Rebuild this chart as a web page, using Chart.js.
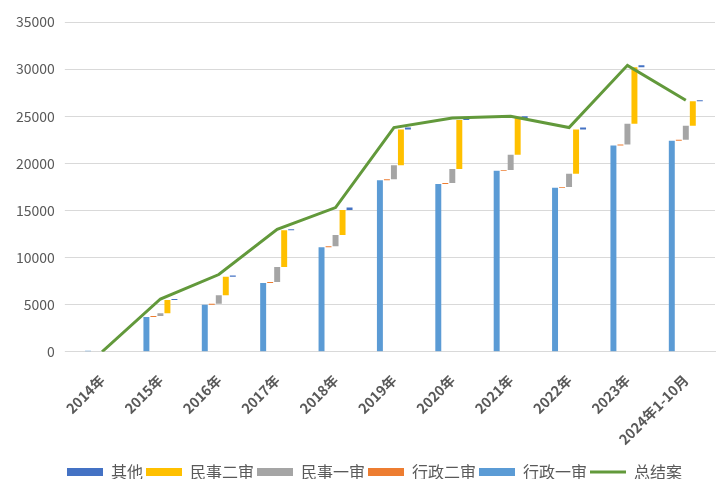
<!DOCTYPE html>
<html><head><meta charset="utf-8">
<script src="https://cdn.jsdelivr.net/npm/chart.js@4"></script>
<style>html,body{margin:0;padding:0;background:#fff}#wrap{width:719px;height:479px;position:relative}</style>
</head><body><div id="wrap"><canvas id="c"></canvas></div>
<script>
const categories = ['2014年','2015年','2016年','2017年','2018年','2019年','2020年','2021年','2022年','2023年','2024年1-10月'];
const xingzheng1 = [100, 3700, 5000, 7300, 11100, 18200, 17800, 19200, 17400, 21900, 22400];
const xingzheng2 = [0, 100, 100, 100, 100, 100, 100, 100, 100, 100, 100];
const minshi1 = [0, 300, 900, 1600, 1200, 1500, 1500, 1600, 1400, 2200, 1500];
const minshi2 = [0, 1400, 1950, 3900, 2650, 3800, 5200, 3900, 4700, 6000, 2600];
const qita = [0, 100, 150, 100, 250, 200, 200, 200, 200, 200, 100];
const totalCases = [0, 5600, 8200, 13000, 15300, 23800, 24800, 25000, 23800, 30400, 26700];
const yTicks = [0, 5000, 10000, 15000, 20000, 25000, 30000, 35000];

const seriesList = [
  {label:'行政一审', values:xingzheng1, color:'#5B9BD5'},
  {label:'行政二审', values:xingzheng2, color:'#ED7D31'},
  {label:'民事一审', values:minshi1, color:'#A5A5A5'},
  {label:'民事二审', values:minshi2, color:'#FFC000'},
  {label:'其他', values:qita, color:'#4472C4'}
];
const base = categories.map(() => 0);
const barSets = seriesList.map(s => {
  const data = s.values.map((v, i) => { const a = base[i]; base[i] += v; return [a, base[i]]; });
  return {type:'bar', label:s.label, data, backgroundColor:s.color, borderWidth:0, order:1,
          pointStyle:'rect', categoryPercentage:0.6, barPercentage:0.85};
});
const legendRank = {'其他':0,'民事二审':1,'民事一审':2,'行政二审':3,'行政一审':4,'总结案':5};
const txt = '#595959';
const fam = "'Noto Sans CJK SC','Noto Sans',sans-serif";
const shiftLegend = {id:'shiftLegend', afterLayout(chart){ const l = chart.legend; if (l) { l.left += 14; l.right += 14; l.top += 1; l.bottom += 1; } }};
new Chart(document.getElementById('c'), {
  data: {
    labels: categories,
    datasets: [...barSets, {
      type:'line', label:'总结案', data: totalCases, borderColor:'#62993B', backgroundColor:'#62993B',
      borderWidth:3, pointRadius:0, order:0, pointStyle:'line', tension:0
    }]
  },
  plugins:[shiftLegend],
  options: {
    responsive:true, maintainAspectRatio:false, animation:false,
    layout:{padding:{top:22, right:4, left:6, bottom:-10}},
    plugins:{
      tooltip:{enabled:false},
      legend:{position:'bottom', labels:{usePointStyle:true, pointStyleWidth:36, boxHeight:8,
        color:txt, font:{family:fam, size:16}, padding:3,
        sort:(a,b)=>legendRank[a.text]-legendRank[b.text]}}
    },
    scales:{
      x:{offset:true, grid:{display:false}, border:{color:'#D9D9D9'},
        ticks:{color:txt, font:{family:fam, size:14, weight:'bold'}, minRotation:45, maxRotation:45, autoSkip:false, padding:12}},
      y:{min:0, max:35000, afterBuildTicks:(ax)=>{ax.ticks = yTicks.map(v=>({value:v}));},
        grid:{color:'#D9D9D9'}, border:{display:false},
        ticks:{color:txt, font:{family:fam, size:14}, padding:10, callback:(v)=>String(v)}}
    }
  }
});
</script></body></html>
